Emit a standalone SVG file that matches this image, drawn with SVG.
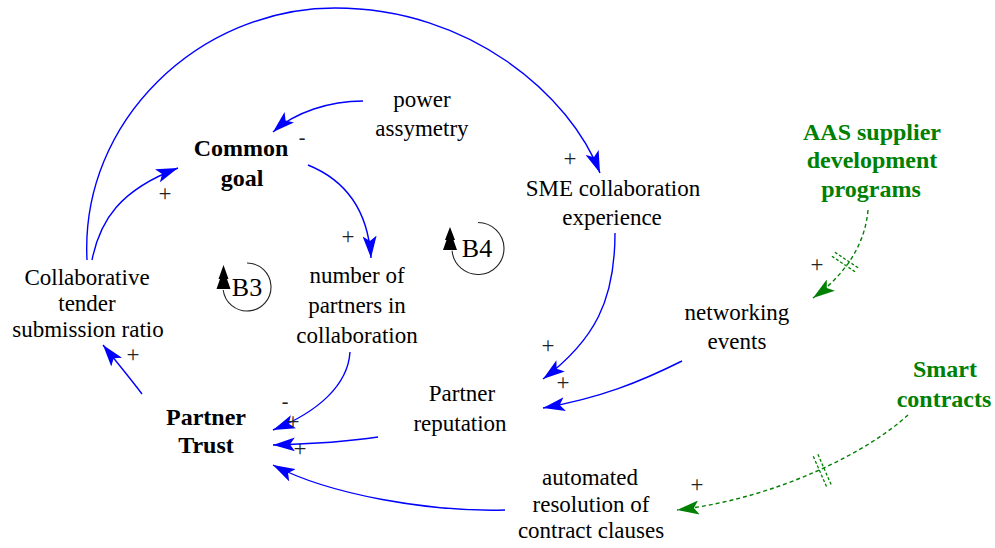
<svg xmlns="http://www.w3.org/2000/svg" width="995" height="548" viewBox="0 0 995 548">
  <defs>
    <style>
      text { font-family: "Liberation Serif", Tinos, "Nimbus Roman", "Times New Roman", "DejaVu Serif", serif; font-weight: 400; font-style: normal; }
      .var { font-size: 23px; fill: #000; text-anchor: middle; }
      .key { font-size: 24px; font-weight: 700; fill: #000; text-anchor: middle; }
      .ext { font-size: 24px; font-weight: 700; fill: #008000; text-anchor: middle; }
      .pol { font-size: 23px; fill: #222; text-anchor: middle; }
      .neg { font-size: 20px; fill: #222; text-anchor: middle; }
      .loop { font-size: 26px; fill: #000; text-anchor: middle; }
      .link { fill: none; stroke: #0000ff; stroke-width: 1.4; marker-end: url(#arrowBlue); }
      .ext-link { fill: none; stroke: #008000; stroke-width: 1.4; stroke-dasharray: 4 3; marker-end: url(#arrowGreen); }
      .delay { fill: none; stroke: #008000; stroke-width: 1.3; stroke-dasharray: 3 2; }
      .ring { fill: none; stroke: #222; stroke-width: 1.1; }
    </style>
    <marker id="arrowBlue" markerUnits="userSpaceOnUse" markerWidth="22" markerHeight="14" refX="22" refY="7" orient="auto">
      <path d="M0,0 L22,7 L0,14 L5,7 Z" fill="#0000ff"/>
    </marker>
    <marker id="arrowGreen" markerUnits="userSpaceOnUse" markerWidth="22" markerHeight="14" refX="22" refY="7" orient="auto">
      <path d="M0,0 L22,7 L0,14 L5,7 Z" fill="#008000"/>
    </marker>
  </defs>

  <!-- causal links -->
  <g id="connectors">
    <path class="link" d="M363,101 C330,101 295,112 273,132"/>
    <path class="link" d="M308,165 C345,180 368,210 371,258"/>
    <path class="link" d="M92,260 C100,220 120,190 178,168"/>
    <path class="link" d="M87,260 C80,120 200,8 335,8 C470,8 570,95 600,173"/>
    <path class="link" d="M615,233 C615,300 595,340 543,379"/>
    <path class="link" d="M682,361 C640,382 600,398 543,408"/>
    <path class="link" d="M350,352 C348,385 318,412 273,430"/>
    <path class="link" d="M378,437 C345,442 310,444 273,445"/>
    <path class="link" d="M505,510 C430,512 330,495 273,465"/>
    <path class="link" d="M142,394 C130,378 115,360 103,345"/>

    <path class="ext-link" d="M868,210 C865,245 845,275 813,298"/>
    <path class="ext-link" d="M908,415 C870,450 780,498 677,510"/>

    <!-- delay marks -->
    <path class="delay" d="M855.1,271.8 L831.9,256.2 M858.1,267.8 L834.9,252.2"/>
    <path class="delay" d="M826.5,486.6 L812.9,455.4 M831.1,484.6 L817.5,453.4"/>

    <!-- link polarities -->
    <text class="neg" x="302" y="144">-</text>
    <text class="pol" x="165" y="201">+</text>
    <text class="pol" x="348" y="244">+</text>
    <text class="pol" x="570" y="166">+</text>
    <text class="pol" x="548" y="353">+</text>
    <text class="pol" x="563" y="390">+</text>
    <text class="neg" x="285" y="408">-</text>
    <text class="pol" x="293" y="429">+</text>
    <text class="pol" x="300" y="456">+</text>
    <text class="pol" x="133" y="362">+</text>
    <text class="pol" x="817" y="272">+</text>
    <text class="pol" x="697" y="492">+</text>
  </g>

  <!-- variables -->
  <g id="power-assymetry">
    <text class="var" x="422" y="107">power</text>
    <text class="var" x="422" y="136">assymetry</text>
  </g>
  <g id="common-goal">
    <text class="key" x="241" y="156">Common</text>
    <text class="key" x="242" y="186">goal</text>
  </g>
  <g id="sme-collaboration-experience">
    <text class="var" x="613" y="196">SME collaboration</text>
    <text class="var" x="612" y="225">experience</text>
  </g>
  <g id="aas-supplier-development-programs">
    <text class="ext" x="872" y="140">AAS supplier</text>
    <text class="ext" x="872" y="168">development</text>
    <text class="ext" x="871" y="197">programs</text>
  </g>
  <g id="collaborative-tender-submission-ratio">
    <text class="var" x="87" y="285">Collaborative</text>
    <text class="var" x="87" y="311">tender</text>
    <text class="var" x="88" y="337">submission ratio</text>
  </g>
  <g id="number-of-partners">
    <text class="var" x="357" y="283">number of</text>
    <text class="var" x="357" y="313">partners in</text>
    <text class="var" x="357" y="343">collaboration</text>
  </g>
  <g id="networking-events">
    <text class="var" x="737" y="320">networking</text>
    <text class="var" x="737" y="349">events</text>
  </g>
  <g id="partner-reputation">
    <text class="var" x="462" y="401">Partner</text>
    <text class="var" x="460" y="431">reputation</text>
  </g>
  <g id="partner-trust">
    <text class="key" x="206" y="425">Partner</text>
    <text class="key" x="206" y="453">Trust</text>
  </g>
  <g id="smart-contracts">
    <text class="ext" x="945" y="377">Smart</text>
    <text class="ext" x="944" y="407">contracts</text>
  </g>
  <g id="automated-resolution">
    <text class="var" x="590" y="485">automated</text>
    <text class="var" x="591" y="512">resolution of</text>
    <text class="var" x="591" y="538">contract clauses</text>
  </g>

  <!-- balancing loop markers -->
  <g id="loop-B3">
    <path class="ring" d="M247,263 A24,24 0 1 1 223.2,290"/>
    <path d="M223.5,265 L228.5,279 L227,279 L230.5,289 L216.5,289 L220,279 L218.5,279 Z" fill="#000"/>
    <text class="loop" x="247" y="296">B3</text>
  </g>
  <g id="loop-B4">
    <path class="ring" d="M478,222.5 A26,26 0 1 1 452.1,250.8"/>
    <path d="M450,227 L455,240 L453.5,240 L457,250 L443,250 L446.5,240 L445,240 Z" fill="#000"/>
    <text class="loop" x="477" y="257">B4</text>
  </g>
</svg>
